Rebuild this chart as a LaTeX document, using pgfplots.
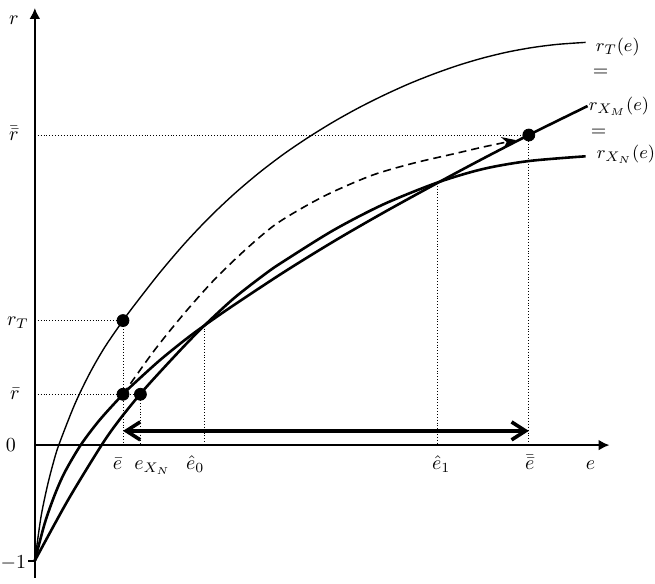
\documentclass[border=0pt]{standalone}
\usepackage{pgfplots}
\pgfplotsset{compat=1.18}
\usetikzlibrary{arrows.meta}
\begin{document}
\begin{tikzpicture}
\begin{axis}[
  x=50pt, y=58pt,
  xmin=0, xmax=5.77, ymin=-1.147, ymax=3.784,
  axis lines=middle,
  axis line style={line width=1.2pt},
  x axis line style={-{Latex[length=5.5pt,width=5.5pt]}},
  y axis line style={-{Latex[length=5.5pt,width=5.5pt]}},
  xtick=\empty, ytick=\empty,
  clip=false,
]
% invisible frame fixing the picture size
\path (axis cs:-0.35,-1.198) rectangle (axis cs:6.20,3.853);

% dotted guide lines
\addplot[densely dotted, line width=0.45pt] coordinates {(0,2.684)(4.96,2.684)};
\addplot[densely dotted, line width=0.45pt] coordinates {(0,1.078)(0.885,1.078)};
\addplot[densely dotted, line width=0.45pt] coordinates {(0,0.44)(1.06,0.44)};
\addplot[densely dotted, line width=0.45pt] coordinates {(0.885,1.078)(0.885,0)};
\addplot[densely dotted, line width=0.45pt] coordinates {(1.06,0.44)(1.06,0)};
\addplot[densely dotted, line width=0.45pt] coordinates {(1.70,1.034)(1.70,0)};
\addplot[densely dotted, line width=0.45pt] coordinates {(4.04,2.27)(4.04,0)};
\addplot[densely dotted, line width=0.45pt] coordinates {(4.96,2.684)(4.96,0)};
% tick at -1
\addplot[line width=1pt] coordinates {(-0.065,-1)(0,-1)};

% r_T(e)
\addplot[smooth, line width=0.7pt] coordinates {
(0,-1)(0.06,-0.63)(0.12,-0.375)(0.18,-0.17)(0.24,0)(0.4,0.352)(0.55,0.62)(0.7,0.845)(0.885,1.078)
(1.0,1.212)(1.25,1.488)(1.5,1.741)(1.75,1.969)(2.0,2.173)(2.25,2.356)(2.5,2.52)(2.75,2.666)
(3.0,2.799)(3.25,2.919)(3.5,3.027)(3.75,3.125)(4.0,3.211)(4.25,3.287)(4.5,3.351)(4.75,3.403)
(5.0,3.442)(5.25,3.469)(5.53,3.486)};
% r_XM(e)
\addplot[smooth, line width=1.3pt] coordinates {
(0,-1)(0.1,-0.675)(0.2,-0.43)(0.3,-0.235)(0.46,0)(0.65,0.217)(0.885,0.44)(1.0,0.536)(1.25,0.731)
(1.5,0.906)(1.7,1.034)(2.0,1.213)(2.5,1.497)(3.0,1.763)(3.5,2.012)(4.04,2.268)(4.5,2.48)
(5.0,2.702)(5.55,2.935)};
% r_XN(e)
\addplot[smooth, line width=1.3pt] coordinates {
(0,-1)(0.33,-0.48)(0.67,0)(0.85,0.22)(1.06,0.444)(1.25,0.627)(1.5,0.858)(1.7,1.033)(2.0,1.272)
(2.32,1.486)(2.5,1.592)(3.0,1.861)(3.5,2.084)(4.04,2.272)(4.5,2.39)(4.96,2.459)(5.53,2.50)};
% dashed path
\addplot[smooth, line width=0.8pt, dash pattern=on 4pt off 2.5pt, -{Stealth[length=7pt,width=6pt]}] coordinates {
(0.885,0.44)(1.2,0.82)(1.5,1.14)(1.8,1.43)(2.1,1.68)(2.4,1.90)(2.7,2.06)(3.0,2.195)(3.4,2.34)
(3.8,2.44)(4.2,2.52)(4.5,2.58)(4.83,2.64)};
% double arrow
\addplot[line width=1.8pt, {Straight Barb[length=7pt,width=9pt]}-{Straight Barb[length=7pt,width=9pt]}] coordinates {(0.885,0.123)(4.96,0.123)};
% points
\addplot[only marks, mark=*, mark size=3pt] coordinates {(0.885,0.44)(1.06,0.44)(0.885,1.078)(4.96,2.684)};

% axis labels
\node[inner sep=1pt] at (axis cs:-0.21,3.68) {$r$};
\node[anchor=base, inner sep=1pt] at (axis cs:5.58,-0.207) {$e$};
% y tick labels
\node[inner sep=1pt] at (axis cs:-0.21,2.70) {$\bar{\bar r}$};
\node[inner sep=1pt] at (axis cs:-0.17,1.06) {$r_T$};
\node[inner sep=1pt] at (axis cs:-0.20,0.44) {$\bar r$};
\node[inner sep=1pt] at (axis cs:-0.24,0) {$0$};
\node[inner sep=0pt] at (axis cs:-0.215,-1.02) {$-1$};
% x tick labels
\node[anchor=base, inner sep=0pt] at (axis cs:0.83,-0.207) {$\bar e$};
\node[anchor=base, inner sep=0pt] at (axis cs:1.18,-0.207) {$e_{X_N}$};
\node[anchor=base, inner sep=0pt] at (axis cs:1.61,-0.207) {$\hat e_0$};
\node[anchor=base, inner sep=0pt] at (axis cs:4.08,-0.207) {$\hat e_1$};
\node[anchor=base, inner sep=0pt] at (axis cs:4.97,-0.207) {$\bar{\bar e}$};
% curve labels
\node[anchor=west, inner sep=0pt, font=\fontsize{9.5}{11}\selectfont] at (axis cs:5.63,3.448) {$r_T(e)$};
\node[inner sep=1pt] at (axis cs:5.68,3.224) {$=$};
\node[anchor=west, inner sep=0pt, font=\fontsize{9.5}{11}\selectfont] at (axis cs:5.56,2.931) {$r_{X_M}(e)$};
\node[inner sep=1pt] at (axis cs:5.66,2.707) {$=$};
\node[anchor=west, inner sep=0pt, font=\fontsize{9.5}{11}\selectfont] at (axis cs:5.64,2.517) {$r_{X_N}(e)$};
\end{axis}
\end{tikzpicture}
\end{document}
